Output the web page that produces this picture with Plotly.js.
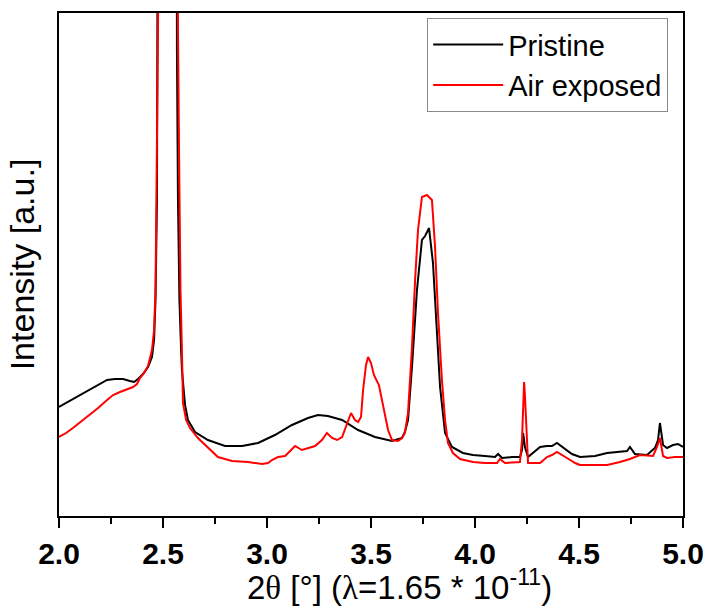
<!DOCTYPE html>
<html>
<head>
<meta charset="utf-8">
<script src="https://cdn.plot.ly/plotly-3.0.1.min.js"></script>
<style>html,body{margin:0;padding:0;background:#fff;}#chart{width:709px;height:608px;}</style>
</head>
<body>
<div id="chart"></div>
<script>
// 2-theta values and intensities (arbitrary units)
var pristineX = [2.000,2.034,2.067,2.111,2.149,2.188,2.231,2.269,2.308,2.341,2.361,2.380,2.404,2.428,2.447,2.457,2.464,2.471,2.476,2.486,2.500,2.524,2.548,2.562,2.567,2.572,2.579,2.587,2.591,2.606,2.620,2.654,2.716,2.798,2.880,2.957,3.038,3.120,3.197,3.245,3.293,3.361,3.438,3.519,3.601,3.649,3.663,3.678,3.697,3.721,3.745,3.760,3.779,3.798,3.817,3.832,3.856,3.889,3.942,3.990,4.048,4.096,4.111,4.130,4.178,4.216,4.226,4.231,4.236,4.240,4.255,4.284,4.313,4.346,4.370,4.394,4.433,4.466,4.505,4.577,4.635,4.697,4.731,4.745,4.769,4.827,4.865,4.880,4.889,4.894,4.904,4.923,4.952,4.976,5.000];
var pristineY = [109,113,117,122,126,131,136,137,137,135,134,137,142,149,159,176,216,316,466,1100,3000,5000,3000,1100,466,316,216,166,146,111,96,84,76,70,70,73,81,91,98,101,100,96,86,79,75,78,84,96,149,226,276,280,288,253,186,129,83,69,63,61,60,59,62,58,59,59,66,83,76,69,59,64,69,70,70,73,67,62,59,60,63,64,65,69,62,61,68,76,93,86,71,68,71,72,69];

var airX = [2.000,2.034,2.067,2.111,2.149,2.188,2.231,2.260,2.293,2.327,2.356,2.375,2.389,2.409,2.428,2.447,2.457,2.464,2.471,2.476,2.486,2.500,2.524,2.548,2.567,2.572,2.577,2.584,2.591,2.596,2.611,2.630,2.668,2.716,2.764,2.832,2.909,2.976,3.005,3.024,3.053,3.087,3.115,3.135,3.168,3.231,3.264,3.288,3.313,3.337,3.361,3.385,3.404,3.423,3.438,3.452,3.462,3.476,3.486,3.500,3.514,3.538,3.548,3.563,3.582,3.601,3.630,3.649,3.663,3.678,3.697,3.712,3.726,3.745,3.769,3.793,3.808,3.822,3.841,3.856,3.870,3.894,3.928,3.990,4.048,4.106,4.120,4.144,4.216,4.226,4.231,4.236,4.240,4.245,4.250,4.255,4.313,4.346,4.370,4.394,4.442,4.481,4.505,4.635,4.697,4.745,4.793,4.856,4.875,4.885,4.889,4.899,4.904,4.923,4.962,5.000];
var airY = [79,83,88,95,101,108,116,121,124,127,129,132,138,143,150,166,186,226,366,486,1100,3000,5000,3000,1100,486,366,226,166,113,96,88,78,68,59,55,54,52,53,56,59,60,66,70,66,70,76,83,78,76,79,93,103,96,94,99,126,151,159,153,141,131,121,106,86,76,75,78,83,103,169,236,286,319,321,316,269,203,136,96,73,63,57,54,53,53,57,53,54,76,116,134,121,96,66,53,53,59,61,64,58,53,51,51,54,57,61,60,69,76,78,66,60,58,59,59];

var seriesNames = ["Pristine", "Air exposed"];
var xTickVals = [2.0, 2.5, 3.0, 3.5, 4.0, 4.5, 5.0];
var xTickText = ["2.0", "2.5", "3.0", "3.5", "4.0", "4.5", "5.0"];
var xTitleText = "2<span style=\"font-family:Liberation Serif\">θ</span> [°] (<span style=\"font-family:Liberation Serif\">λ</span>=1.65 * 10<sup>-11</sup>)";
var yTitleText = "Intensity [a.u.]";

var FONT = "Liberation Sans, Arial, sans-serif";

var traces = [
  {x: pristineX, y: pristineY, name: seriesNames[0], type: "scatter", mode: "lines",
   line: {color: "#000000", width: 2}},
  {x: airX, y: airY, name: seriesNames[1], type: "scatter", mode: "lines",
   line: {color: "#ff0000", width: 2}}
];

var layout = {
  width: 709, height: 608,
  margin: {l: 59, r: 26, t: 13, b: 92},
  paper_bgcolor: "#ffffff", plot_bgcolor: "#ffffff",
  showlegend: true,
  legend: {
    x: 0.59, y: 0.99, xanchor: "left", yanchor: "top",
    bgcolor: "rgba(255,255,255,0)", bordercolor: "#8a8a8a", borderwidth: 1,
    font: {family: FONT, size: 29, color: "#000"},
    itemwidth: 70, tracegroupgap: 0
  },
  xaxis: {
    range: [2.0, 5.0], showgrid: false, zeroline: false,
    showline: true, linecolor: "#000", linewidth: 2, mirror: true,
    ticks: "outside", ticklen: 10, tickwidth: 2, tickcolor: "#000",
    tickvals: xTickVals, ticktext: xTickText,
    tickfont: {family: FONT, size: 30, color: "#000", weight: "bold"},
    minor: {dtick: 0.25, ticks: "outside", ticklen: 6, tickwidth: 2, tickcolor: "#000", showgrid: false}
  },
  yaxis: {
    range: [0, 503], showgrid: false, zeroline: false,
    showline: true, linecolor: "#000", linewidth: 2, mirror: true,
    ticks: "", showticklabels: false,
    title: {text: yTitleText, font: {family: FONT, size: 34, color: "#000"}, standoff: 12}
  },
  annotations: [{
    text: xTitleText, xref: "paper", yref: "paper",
    x: 0.545, y: -0.138, xanchor: "center", yanchor: "middle",
    showarrow: false, font: {family: FONT, size: 33, color: "#000"}
  }]
};

Plotly.newPlot("chart", traces, layout, {displayModeBar: false, staticPlot: true});
</script>
</body>
</html>
